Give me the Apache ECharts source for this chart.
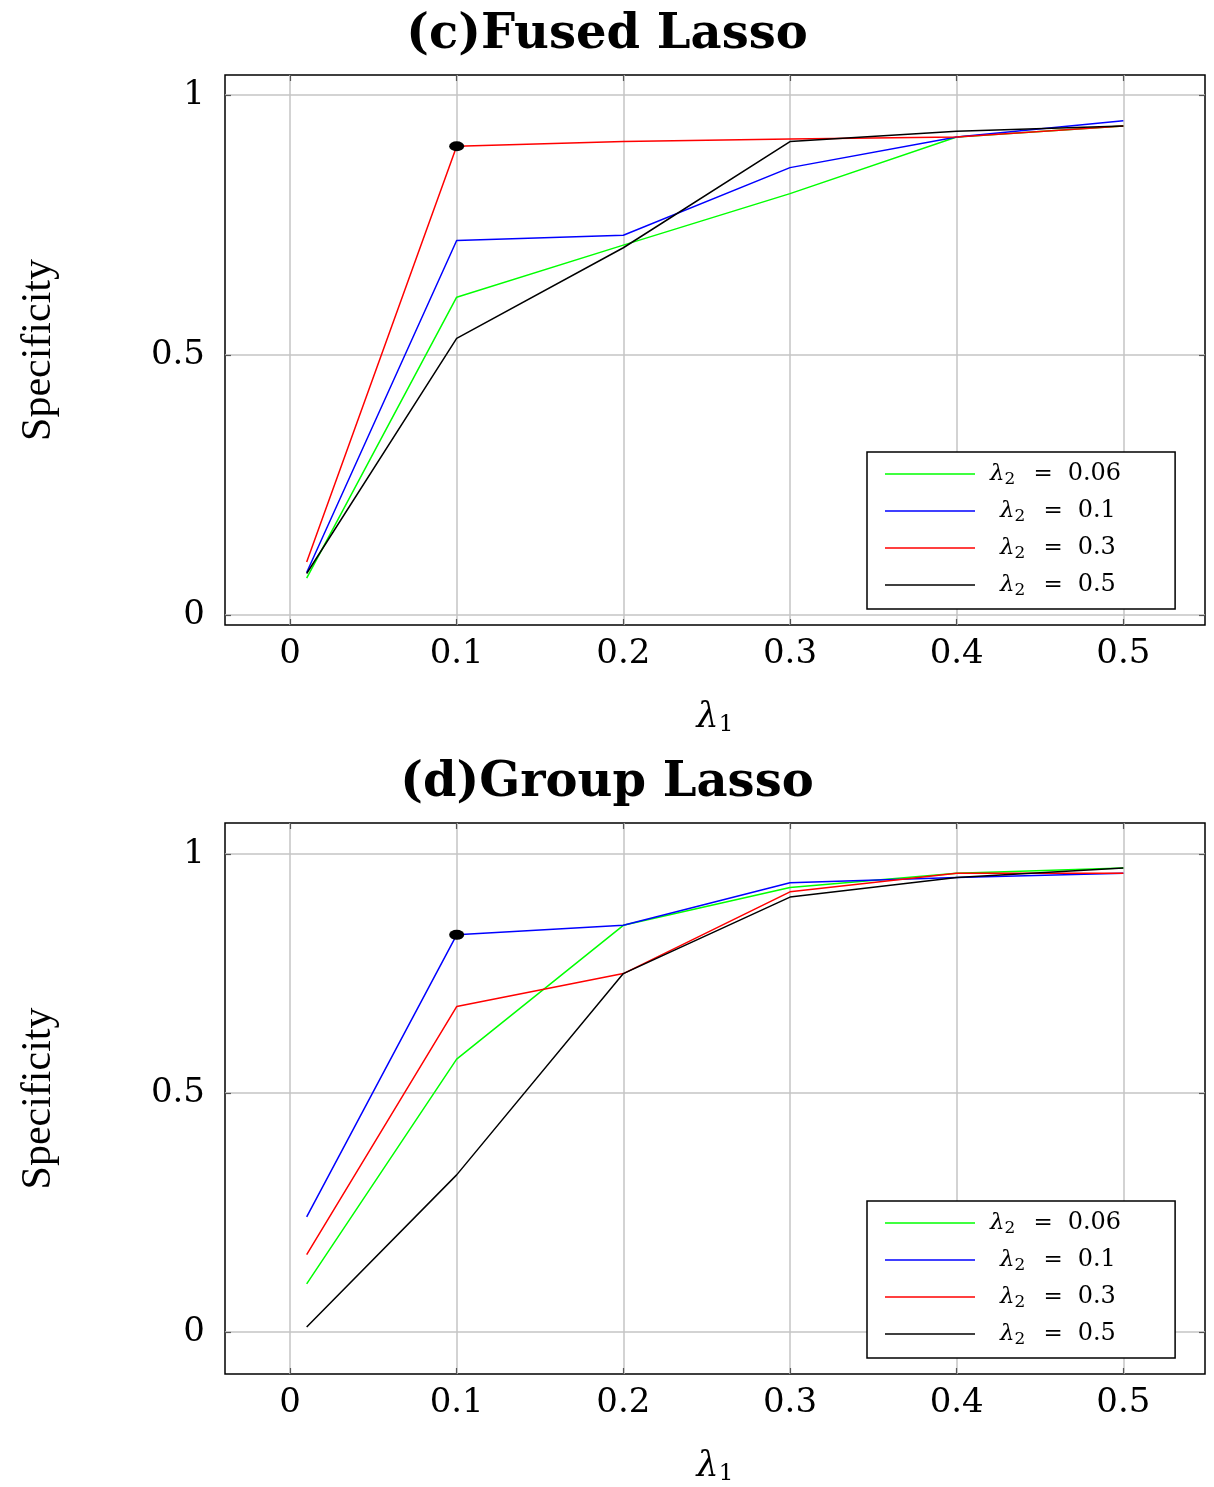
<!DOCTYPE html>
<html>
<head>
<meta charset="utf-8">
<title>Specificity</title>
<script src="https://cdn.jsdelivr.net/npm/echarts@6/dist/echarts.min.js"></script>
<style>
  html, body { margin: 0; padding: 0; background: #fff; }
  #main { width: 1214px; height: 1487px; }
</style>
</head>
<body>
<div id="main"></div>
<script>
  // lambda1 values on the x axis
  const lambda1 = [0.01, 0.1, 0.2, 0.3, 0.4, 0.5];
  const lambda2Labels = ['0.06', '0.1', '0.3', '0.5'];
  const xTicks = [0, 0.1, 0.2, 0.3, 0.4, 0.5];
  const yTicks = [0, 0.5, 1];

  // (c) Fused Lasso
  const fusedGreen = [0.071, 0.611, 0.711, 0.810, 0.919, 0.940];
  const fusedBlue  = [0.082, 0.720, 0.730, 0.860, 0.919, 0.950];
  const fusedRed   = [0.102, 0.901, 0.910, 0.915, 0.919, 0.940];
  const fusedBlack = [0.080, 0.532, 0.706, 0.910, 0.930, 0.940];

  // (d) Group Lasso
  const groupGreen = [0.101, 0.571, 0.851, 0.930, 0.960, 0.971];
  const groupBlue  = [0.241, 0.831, 0.851, 0.940, 0.951, 0.960];
  const groupRed   = [0.162, 0.681, 0.750, 0.921, 0.960, 0.960];
  const groupBlack = [0.011, 0.329, 0.750, 0.910, 0.951, 0.971];

  const colors = ['#00ff00', '#0000ff', '#ff0000', '#000000'];
  const serif = 'DejaVu Serif';
  const names = lambda2Labels.map(v => 'λ2 = ' + v);

  const charts = [
    { title: '(c)Fused Lasso', top: 75, height: 550, yMin: -0.019, yMax: 1.038,
      lines: [fusedGreen, fusedBlue, fusedRed, fusedBlack], dot: [0.1, fusedRed[1]], legendTop: 452 },
    { title: '(d)Group Lasso', top: 823, height: 553, yMin: -0.0875, yMax: 1.065,
      lines: [groupGreen, groupBlue, groupRed, groupBlack], dot: [0.1, groupBlue[1]], legendTop: 1201 }
  ];

  const tickStyle = { inside: true, length: 6, lineStyle: { color: '#555', width: 1.2 } };
  const noLine = { show: false, onZero: false };

  const option = {
    animation: false,
    backgroundColor: '#fff',
    title: [], grid: [], xAxis: [], yAxis: [], legend: [], series: []
  };

  charts.forEach(function (c, gi) {
    option.title.push({
      text: c.title, left: 'center', top: c.top - 68,
      textStyle: { fontFamily: serif, fontWeight: 'bold', fontSize: 48, color: '#000' }
    });
    option.grid.push({
      left: 225, top: c.top, width: 980, height: c.height,
      show: true, borderColor: '#000', borderWidth: 1.5
    });
    option.xAxis.push({
      type: 'value', gridIndex: gi, min: -0.039, max: 0.549,
      axisLine: noLine,
      axisTick: Object.assign({ customValues: xTicks }, tickStyle),
      axisLabel: { customValues: xTicks, margin: 12, fontFamily: serif, fontSize: 34, color: '#000' },
      splitLine: { show: true, lineStyle: { color: '#c4c4c4', width: 1.5 } },
      name: '{l|λ}{s|1}', nameLocation: 'middle', nameGap: 73,
      nameTextStyle: {
        rich: {
          l: { fontFamily: serif, fontStyle: 'italic', fontSize: 35, color: '#000' },
          s: { fontFamily: serif, fontSize: 23, color: '#000', padding: [16, 0, 0, 0] }
        }
      }
    }, {
      type: 'value', gridIndex: gi, position: 'top', min: -0.039, max: 0.549,
      axisLine: noLine,
      axisTick: Object.assign({ customValues: xTicks }, tickStyle),
      axisLabel: { show: false }, splitLine: { show: false }
    });
    option.yAxis.push({
      type: 'value', gridIndex: gi, min: c.yMin, max: c.yMax,
      axisLine: noLine,
      axisTick: Object.assign({ customValues: yTicks }, tickStyle),
      axisLabel: { customValues: yTicks, margin: 20, fontFamily: serif, fontSize: 34, color: '#000' },
      splitLine: { show: true, lineStyle: { color: '#c4c4c4', width: 1.5 } },
      name: 'Specificity', nameLocation: 'middle', nameRotate: 90, nameGap: 165,
      nameTextStyle: { fontFamily: 'Liberation Serif', fontSize: 42, color: '#000' }
    }, {
      type: 'value', gridIndex: gi, position: 'right', min: c.yMin, max: c.yMax,
      axisLine: noLine,
      axisTick: Object.assign({ customValues: yTicks }, tickStyle),
      axisLabel: { show: false }, splitLine: { show: false }
    });

    c.lines.forEach(function (vals, k) {
      option.series.push({
        name: names[k], type: 'line', xAxisIndex: gi * 2, yAxisIndex: gi * 2,
        data: lambda1.map((x, i) => [x, vals[i]]),
        symbol: 'none', color: colors[k],
        lineStyle: { color: colors[k], width: 1.5 }
      });
    });
    option.series.push({
      type: 'scatter', xAxisIndex: gi * 2, yAxisIndex: gi * 2,
      data: [c.dot], symbol: 'circle', symbolSize: [15, 10],
      itemStyle: { color: '#000', opacity: 1 }, z: 5
    });

    option.legend.push({
      data: names, orient: 'vertical', left: 867, top: c.legendTop,
      icon: 'rect', itemWidth: 90, itemHeight: 1.5, itemGap: 11,
      padding: [10, 54, 10, 18],
      borderColor: '#000', borderWidth: 1.5, backgroundColor: '#fff',
      selectedMode: false,
      formatter: function (name) {
        const v = name.split('= ')[1];
        return (v.length > 3 ? '{l|λ}' : '{lp|λ}') + '{s|2}{e|=}{t|' + v + '}';
      },
      textStyle: {
        rich: {
          l: { fontFamily: serif, fontStyle: 'italic', fontSize: 23, color: '#000', padding: [0, 0, 0, 10] },
          lp: { fontFamily: serif, fontStyle: 'italic', fontSize: 23, color: '#000', padding: [0, 0, 0, 20] },
          s: { fontFamily: serif, fontSize: 17, color: '#000', padding: [11, 0, 0, 0] },
          e: { fontFamily: serif, fontSize: 23, color: '#000', padding: [0, 15, 0, 18] },
          t: { fontFamily: serif, fontSize: 24, color: '#000' }
        }
      }
    });
  });

  const chart = echarts.init(document.getElementById('main'));
  chart.setOption(option);
  window.onresize = function () {
    chart.resize();
  };
</script>
</body>
</html>
